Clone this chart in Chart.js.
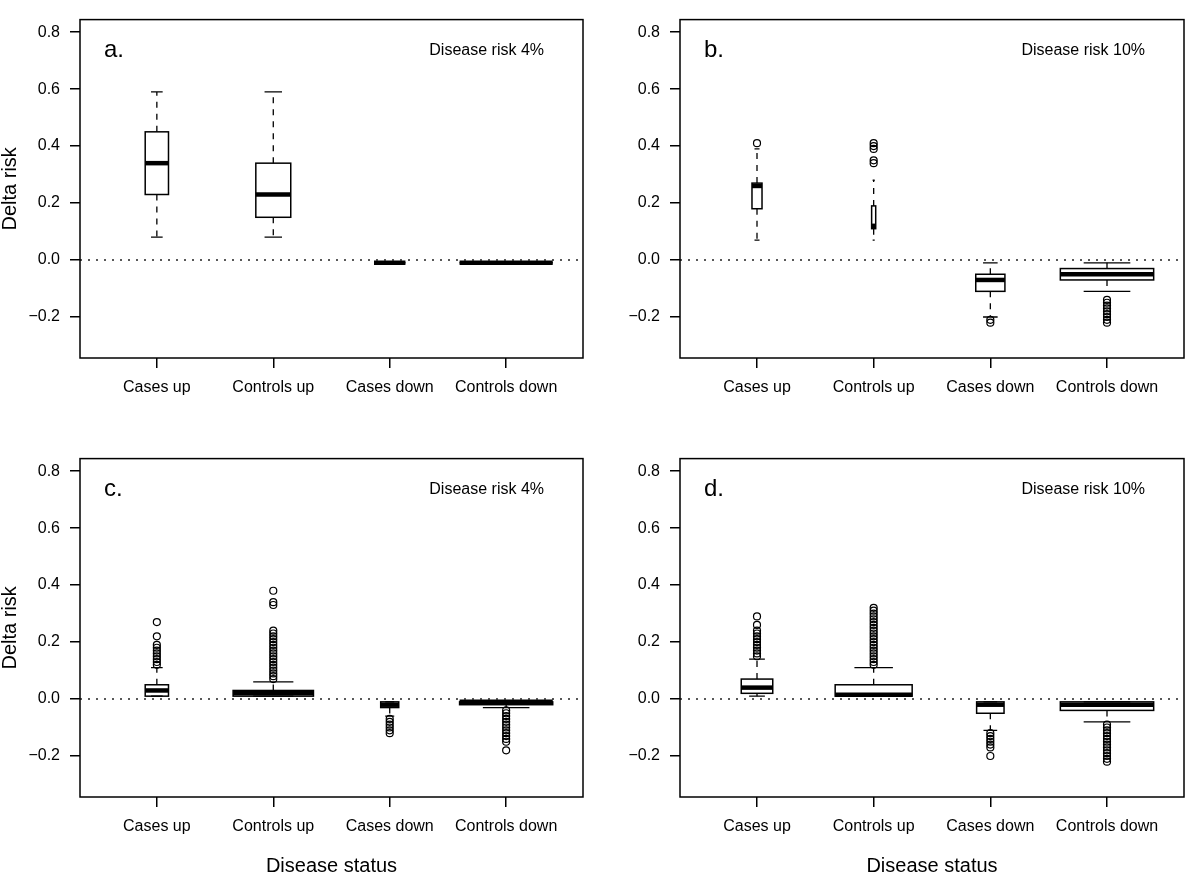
<!DOCTYPE html>
<html>
<head>
<meta charset="utf-8">
<title>Delta risk by disease status</title>
<script src="https://cdn.jsdelivr.net/npm/chart.js@4.4.1/dist/chart.umd.min.js"></script>
<style>
  body { margin: 0; background: #fff; }
  #wrap { position: relative; width: 1200px; height: 877px; }
  .panel { position: absolute; width: 600px; height: 438px; }
</style>
</head>
<body>
<div id="wrap">
  <div class="panel" style="left:0;top:0"><canvas id="chartA" width="600" height="438"></canvas></div>
  <div class="panel" style="left:600px;top:0"><canvas id="chartB" width="600" height="438"></canvas></div>
  <div class="panel" style="left:0;top:439px"><canvas id="chartC" width="600" height="438"></canvas></div>
  <div class="panel" style="left:600px;top:439px"><canvas id="chartD" width="600" height="438"></canvas></div>
</div>
<script>
// ---- data ----
const groups = ["Cases up", "Controls up", "Cases down", "Controls down"];
const yTicks = [-0.2, 0.0, 0.2, 0.4, 0.6, 0.8];
const yLimits = [-0.3, 0.8];
const refLine = 0;

// five numbers per group: [lower whisker, Q1, median, Q3, upper whisker]
const statsA = [
  [0.08, 0.23, 0.34, 0.45, 0.59],
  [0.08, 0.15, 0.23, 0.34, 0.59],
  [-0.01, -0.01, -0.01, -0.01, -0.01],
  [-0.01, -0.01, -0.01, -0.01, -0.01],
];
const outA = [[], [], [], []];
const widthA = [0.20, 0.30, 0.27, 0.80]; // varwidth, relative to sqrt(n)

const statsB = [
  [0.07, 0.18, 0.26, 0.27, 0.39],
  [0.07, 0.11, 0.12, 0.19, 0.28],
  [-0.20, -0.11, -0.07, -0.05, -0.01],
  [-0.11, -0.07, -0.05, -0.03, -0.01],
];
const outB = [
  [0.41],
  [0.34, 0.35, 0.39, 0.40, 0.41],
  [-0.21, -0.22],
  [-0.14, -0.15, -0.16, -0.17, -0.18, -0.19, -0.20, -0.21, -0.22],
];
const widthB = [0.086, 0.035, 0.25, 0.80];

const statsC = [
  [0.01, 0.01, 0.03, 0.05, 0.11],
  [0.01, 0.01, 0.02, 0.03, 0.06],
  [-0.06, -0.03, -0.02, -0.01, -0.01],
  [-0.03, -0.02, -0.01, -0.01, -0.01],
];
const outC = [
  [0.12, 0.13, 0.14, 0.15, 0.16, 0.17, 0.18, 0.19, 0.22, 0.27],
  [0.07, 0.08, 0.09, 0.10, 0.11, 0.12, 0.13, 0.14, 0.15, 0.16, 0.17, 0.18,
   0.19, 0.20, 0.21, 0.22, 0.23, 0.24, 0.33, 0.34, 0.38],
  [-0.07, -0.08, -0.09, -0.10, -0.11, -0.12],
  [-0.04, -0.05, -0.06, -0.07, -0.08, -0.09, -0.10, -0.11, -0.12, -0.13,
   -0.14, -0.15, -0.18],
];
const widthC = [0.20, 0.69, 0.155, 0.80];

const statsD = [
  [0.01, 0.02, 0.04, 0.07, 0.14],
  [0.01, 0.01, 0.015, 0.05, 0.11],
  [-0.11, -0.05, -0.02, -0.01, -0.01],
  [-0.08, -0.04, -0.02, -0.01, -0.01],
];
const outD = [
  [0.15, 0.16, 0.17, 0.18, 0.19, 0.20, 0.21, 0.22, 0.23, 0.24, 0.26, 0.29],
  [0.12, 0.13, 0.14, 0.15, 0.16, 0.17, 0.18, 0.19, 0.20, 0.21, 0.22, 0.23,
   0.24, 0.25, 0.26, 0.27, 0.28, 0.29, 0.30, 0.31, 0.32],
  [-0.12, -0.13, -0.14, -0.15, -0.16, -0.17, -0.20],
  [-0.09, -0.10, -0.11, -0.12, -0.13, -0.14, -0.15, -0.16, -0.17, -0.18,
   -0.19, -0.20, -0.21, -0.22],
];
const widthD = [0.27, 0.66, 0.235, 0.80];

// ---- look ----
const FONT = "'Liberation Sans', Arial, Helvetica, sans-serif";
const INK = "#000";

// R-style axis limits: range padded by 4% on each side
function padRange(lo, hi) {
  const d = (hi - lo) * 0.04;
  return [lo - d, hi + d];
}
const [xMin, xMax] = padRange(0.5, groups.length + 0.5);
const [yMin, yMax] = padRange(yLimits[0], yLimits[1]);

function fmtTick(v) {
  const s = Math.abs(v).toFixed(1);
  return v < -1e-9 ? "\u2212" + s : s;
}

// boxes, whiskers and staples, placed through the chart scales
const boxPlugin = {
  id: "boxes",
  beforeDatasetsDraw(chart, args, opts) {
    const { ctx, scales: { x, y } } = chart;
    ctx.save();
    ctx.strokeStyle = INK;
    opts.stats.forEach((st, i) => {
      const [lo, q1, med, q3, hi] = st;
      const pos = i + 1;
      const xc = x.getPixelForValue(pos);
      const half = (x.getPixelForValue(pos + opts.widths[i] / 2) - x.getPixelForValue(pos - opts.widths[i] / 2)) / 2;
      const staple = half / 2;
      // whiskers
      ctx.lineWidth = 1.3;
      ctx.setLineDash([6, 6]);
      ctx.beginPath();
      ctx.moveTo(xc, y.getPixelForValue(q3));
      ctx.lineTo(xc, y.getPixelForValue(hi));
      ctx.moveTo(xc, y.getPixelForValue(q1));
      ctx.lineTo(xc, y.getPixelForValue(lo));
      ctx.stroke();
      ctx.setLineDash([]);
      // staples
      ctx.beginPath();
      ctx.moveTo(xc - staple, y.getPixelForValue(hi));
      ctx.lineTo(xc + staple, y.getPixelForValue(hi));
      ctx.moveTo(xc - staple, y.getPixelForValue(lo));
      ctx.lineTo(xc + staple, y.getPixelForValue(lo));
      ctx.stroke();
      // box
      ctx.lineWidth = 1.5;
      const top = y.getPixelForValue(q3);
      const bot = y.getPixelForValue(q1);
      ctx.strokeRect(xc - half, top, half * 2, bot - top);
      // median
      ctx.lineWidth = 4.5;
      ctx.beginPath();
      ctx.moveTo(xc - half, y.getPixelForValue(med));
      ctx.lineTo(xc + half, y.getPixelForValue(med));
      ctx.stroke();
    });
    ctx.restore();
  },
};

// frame and panel captions
const framePlugin = {
  id: "frame",
  afterDraw(chart, args, opts) {
    const { ctx, chartArea: a } = chart;
    ctx.save();
    ctx.strokeStyle = INK;
    ctx.lineWidth = 1.5;
    ctx.strokeRect(a.left, a.top, a.right - a.left, a.bottom - a.top);
    ctx.fillStyle = INK;
    ctx.textBaseline = "middle";
    ctx.font = "24px " + FONT;
    ctx.textAlign = "left";
    ctx.fillText(opts.letter, a.left + 24, a.top + 31);
    ctx.font = "16px " + FONT;
    ctx.textAlign = "right";
    ctx.fillText(opts.risk, a.right - 39, a.top + 31);
    ctx.restore();
  },
};

function makePanel(id, stats, outliers, widths, letter, risk, showY, showX, padRight) {
  const outPoints = outliers.flatMap((vals, i) => vals.map((v) => ({ x: i + 1, y: v })));
  new Chart(document.getElementById(id), {
    type: "scatter",
    data: {
      datasets: [
        {
          type: "line",
          data: [{ x: xMin, y: refLine }, { x: xMax, y: refLine }],
          borderColor: "#222",
          borderWidth: 1.5,
          borderDash: [2, 6],
          pointRadius: 0,
        },
        {
          data: outPoints,
          pointStyle: "circle",
          pointRadius: 3.5,
          pointBorderWidth: 1.2,
          pointBorderColor: INK,
          pointBackgroundColor: "rgba(0,0,0,0)",
        },
      ],
    },
    options: {
      responsive: false,
      animation: false,
      events: [],
      layout: { padding: { top: 18, right: padRight, bottom: 0, left: 0 } },
      plugins: {
        legend: { display: false },
        tooltip: { enabled: false },
        boxes: { stats: stats, widths: widths },
        frame: { letter: letter, risk: risk },
      },
      scales: {
        x: {
          type: "linear",
          min: xMin,
          max: xMax,
          afterBuildTicks: (s) => { s.ticks = groups.map((g, i) => ({ value: i + 1 })); },
          afterFit: (s) => { s.height = 80; },
          ticks: {
            color: INK,
            font: { family: FONT, size: 16 },
            padding: 10,
            maxRotation: 0,
            autoSkip: false,
            callback: (v) => groups[Math.round(v) - 1],
          },
          grid: { drawOnChartArea: false, color: INK, tickLength: 10, lineWidth: 1.5 },
          border: { display: false },
          title: {
            display: showX,
            text: "Disease status",
            color: INK,
            font: { family: FONT, size: 20, lineHeight: 1 },
            padding: { top: 0, bottom: 1 },
          },
        },
        y: {
          type: "linear",
          min: yMin,
          max: yMax,
          afterBuildTicks: (s) => { s.ticks = yTicks.map((v) => ({ value: v })); },
          afterFit: (s) => { s.width = 80; },
          ticks: {
            color: INK,
            font: { family: FONT, size: 16 },
            padding: 10,
            callback: (v) => fmtTick(v),
          },
          grid: { drawOnChartArea: false, color: INK, tickLength: 10, lineWidth: 1.5 },
          border: { display: false },
          title: {
            display: showY,
            text: "Delta risk",
            color: INK,
            font: { family: FONT, size: 20, lineHeight: 1 },
            padding: { top: 0, bottom: 0 },
          },
        },
      },
    },
    plugins: [boxPlugin, framePlugin],
  });
}

makePanel("chartA", statsA, outA, widthA, "a.", "Disease risk 4%", true, false, 17);
makePanel("chartB", statsB, outB, widthB, "b.", "Disease risk 10%", false, false, 16);
makePanel("chartC", statsC, outC, widthC, "c.", "Disease risk 4%", true, true, 17);
makePanel("chartD", statsD, outD, widthD, "d.", "Disease risk 10%", false, true, 16);
</script>
</body>
</html>
